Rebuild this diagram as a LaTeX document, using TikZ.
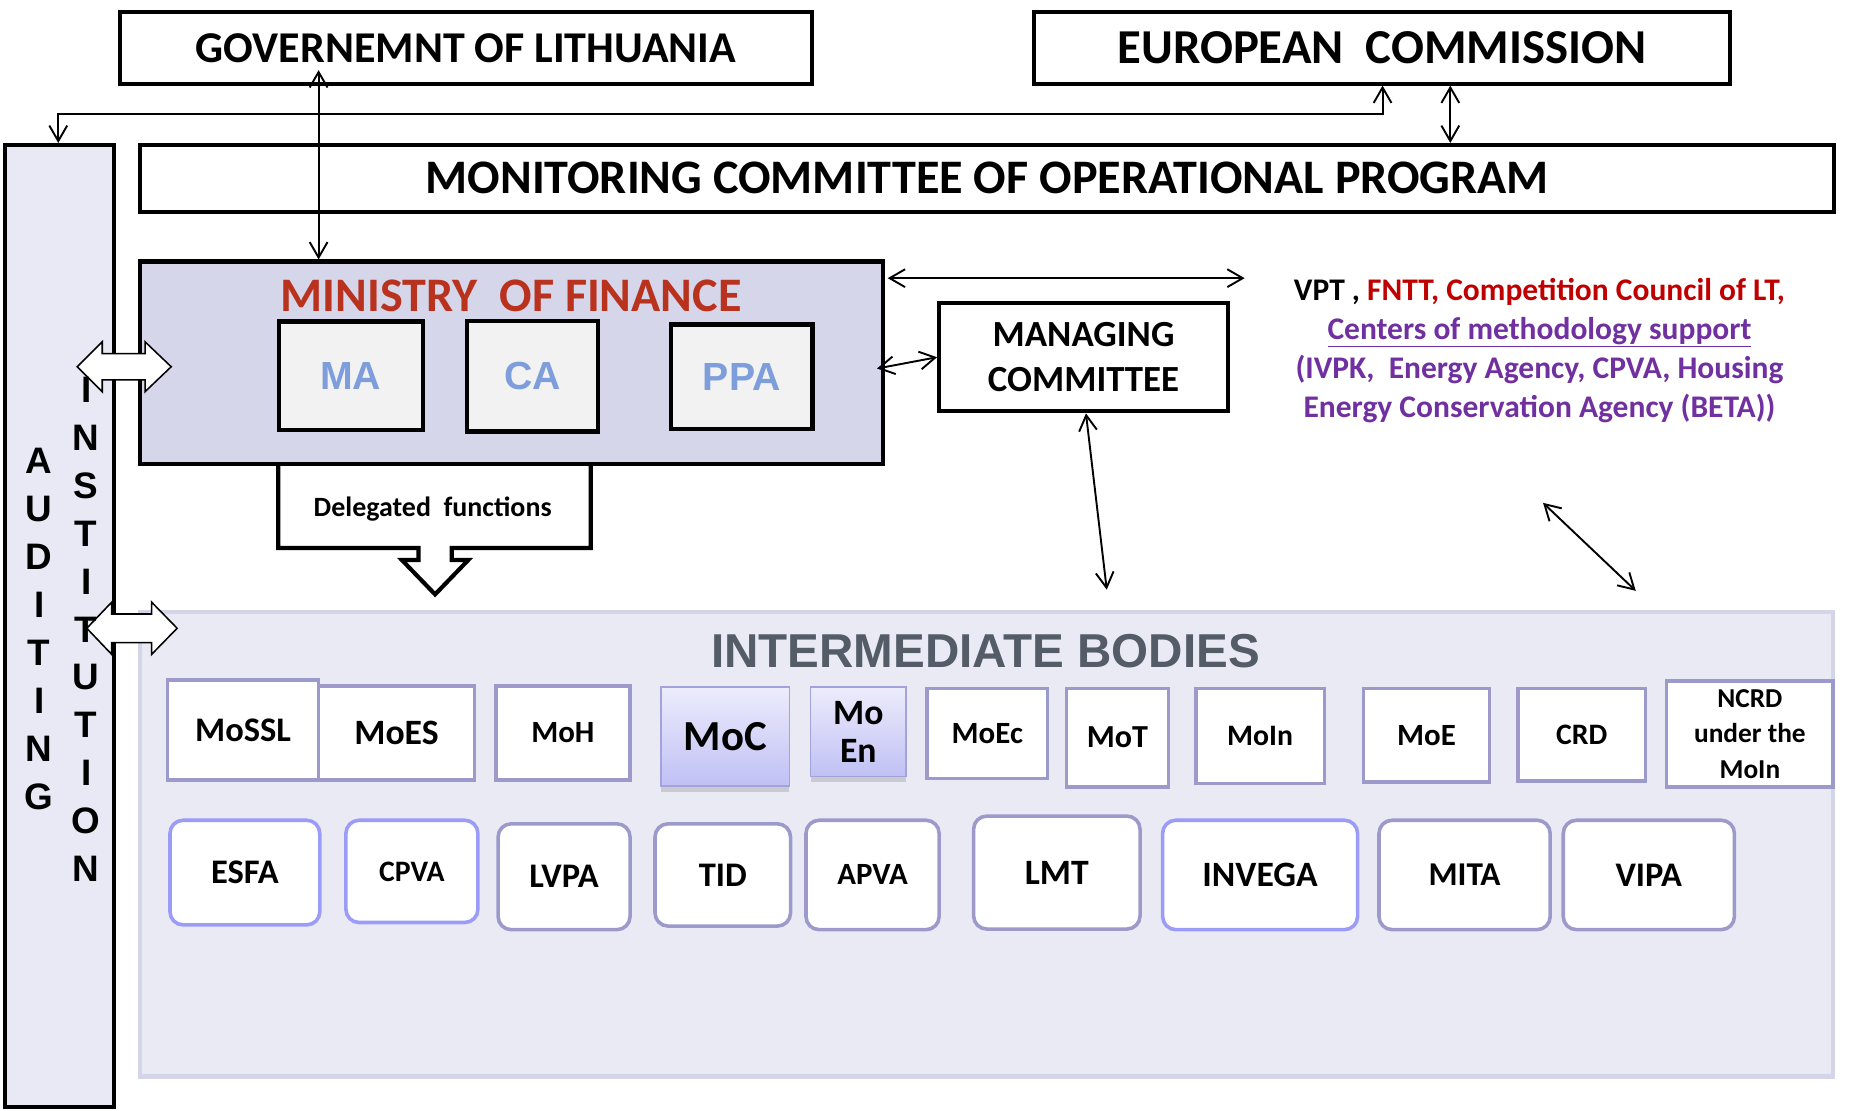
\documentclass[tikz,border=0pt]{standalone}
\usepackage{fontspec}
\setmainfont{Carlito}
\newfontfamily\arialfont{Liberation Sans}
\usetikzlibrary{arrows.meta,shadows}
\definecolor{audfill}{RGB}{233,233,245}
\definecolor{moffill}{RGB}{213,214,234}
\definecolor{ibfill}{RGB}{234,234,245}
\definecolor{ibline}{RGB}{212,213,233}
\definecolor{boxline}{RGB}{156,154,203}
\definecolor{boxblue}{RGB}{155,155,248}
\definecolor{minline}{RGB}{163,163,220}
\definecolor{mintop}{RGB}{236,236,252}
\definecolor{minbot}{RGB}{192,192,245}
\definecolor{mofred}{RGB}{185,50,30}
\definecolor{unitblue}{RGB}{125,158,218}
\definecolor{unitfill}{RGB}{242,242,242}
\definecolor{ibgray}{RGB}{84,92,104}
\definecolor{vptred}{RGB}{192,0,0}
\definecolor{vptviolet}{RGB}{112,48,160}
\newcommand{\fsz}[1]{\fontsize{#1}{#1}\selectfont}

\begin{document}
\begin{tikzpicture}[x=1pt,y=-1pt,
  every node/.style={inner sep=0pt},
  topbox/.style={draw,line width=3.5pt,fill=white},
  unitbox/.style={draw,line width=3.5pt,fill=unitfill,text=unitblue,font=\arialfont\bfseries\fsz{33}},
  ibbox/.style={draw=boxline,line width=3pt,fill=white},
  ibround/.style={ibbox,rounded corners=11pt},
  ibmin/.style={draw=minline,line width=1.2pt,top color=mintop,bottom color=minbot,
    drop shadow={shadow xshift=0pt,shadow yshift=-5pt,opacity=.3}},
  link/.style={line width=1.6pt,{Straight Barb[length=13pt,width=15pt]}-{Straight Barb[length=13pt,width=15pt]}},
  blockarrow/.style={draw,line width=1.3pt,fill=white,line join=miter}]
\useasboundingbox (0,0) rectangle (1568,934);

% top level
\node[topbox,minimum width=582pt,minimum height=61pt,font=\bfseries\fsz{37}] (gov) at (392,40.5) {GOVERNEMNT OF LITHUANIA};
\node[topbox,minimum width=585pt,minimum height=61pt,font=\bfseries\fsz{41}] (ec) at (1162.5,40.5) {EUROPEAN~~COMMISSION};
\node[topbox,minimum width=1425pt,minimum height=56pt,font=\bfseries\fsz{40.5}] (mon) at (830.5,150) {MONITORING COMMITTEE OF OPERATIONAL PROGRAM};
\node[draw,line width=3.5pt,fill=audfill,minimum width=92pt,minimum height=809pt] (aud) at (50,526.5) {};

% intermediate bodies
\node[draw=ibline,line width=3.5pt,fill=ibfill,minimum width=1424pt,minimum height=391pt] (ib) at (830,710) {};
\node[text=ibgray,font=\arialfont\bfseries\fsz{40}] (ibtitle) at (829,548) {INTERMEDIATE BODIES};

% delegated functions callout
\draw[line width=3.5pt,fill=white,line join=miter] (234,390) -- (234,461) -- (352,461) -- (352,471) -- (338,471)
  -- (366,500) -- (394,471) -- (380,471) -- (380,461) -- (497,461) -- (497,390);
\node[font=\bfseries\fsz{23.5}] (deleg) at (364,428) {Delegated~ f{}unctions};

% ministry of finance
\node[draw,line width=3.5pt,fill=moffill,minimum width=625pt,minimum height=170pt] (mof) at (430.5,305) {};
\node[text=mofred,font=\bfseries\fsz{40.5}] (moftitle) at (430,249) {MINISTRY~~OF FINANCE};
\node[unitbox,minimum width=121pt,minimum height=91pt] (ma) at (295,316) {MA};
\node[unitbox,minimum width=110pt,minimum height=93pt] (ca) at (448,316.5) {CA};
\node[unitbox,minimum width=119pt,minimum height=88pt] (ppa) at (624,317) {PPA};

\node[topbox,align=center,minimum width=243pt,minimum height=91pt,font=\bfseries\fontsize{31}{38}\selectfont] (mc) at (911.5,300.5) {MANAGING\\COMMITTEE};

\node[align=center,font=\bfseries\fontsize{26.5}{33}\selectfont] (vpt) at (1295,295)
  {VPT , \textcolor{vptred}{FNTT, Competition Council of LT,}\\
   \textcolor{vptviolet}{\underline{Centers of methodology support}}\\
   \textcolor{vptviolet}{(IVPK,~ Energy Agency, CPVA, Housing}\\
   \textcolor{vptviolet}{Energy Conservation Agency (BETA))}};

% ministries
\node[ibbox,minimum width=131pt,minimum height=79pt,font=\bfseries\fsz{30}] (moes) at (333.5,616.5) {MoES};
\node[ibbox,minimum width=127pt,minimum height=84pt,font=\bfseries\fsz{29}] (mossl) at (204.5,614) {MoSSL};
\node[ibbox,minimum width=113pt,minimum height=79pt,font=\bfseries\fsz{26}] (moh) at (473.5,616.5) {MoH};
\node[ibmin,minimum width=108pt,minimum height=83pt,font=\bfseries\fsz{36}] (moc) at (610,619.5) {MoC};
\node[ibmin,align=center,minimum width=80pt,minimum height=75pt,font=\bfseries\fontsize{30}{32}\selectfont] (moen) at (722,615.5) {Mo\\En};
\node[ibbox,minimum width=101pt,minimum height=76pt,font=\bfseries\fsz{26}] (moec) at (830.5,617) {MoEc};
\node[ibbox,minimum width=86pt,minimum height=83pt,font=\bfseries\fsz{27}] (mot) at (940,620.5) {MoT};
\node[ibbox,minimum width=108pt,minimum height=80pt,font=\bfseries\fsz{25}] (moin) at (1060,619) {MoIn};
\node[ibbox,minimum width=106pt,minimum height=79pt,font=\bfseries\fsz{26}] (moe) at (1200,618.5) {MoE};
\node[ibbox,minimum width=107pt,minimum height=78pt,font=\bfseries\fsz{25}] (crd) at (1330.5,618) {CRD};
\node[ibbox,align=center,minimum width=140pt,minimum height=89pt,font=\bfseries\fontsize{23}{29.5}\selectfont] (ncrd) at (1472,617.5) {NCRD\\under the\\MoIn};

% agencies
\node[ibround,draw=boxblue,minimum width=126pt,minimum height=88pt,font=\bfseries\fsz{29}] (esfa) at (206,734) {ESFA};
\node[ibround,draw=boxblue,minimum width=111pt,minimum height=86pt,font=\bfseries\fsz{25}] (cpva) at (346.5,733) {CPVA};
\node[ibround,minimum width=111pt,minimum height=89pt,font=\bfseries\fsz{29}] (lvpa) at (474.5,737.5) {LVPA};
\node[ibround,minimum width=114pt,minimum height=86pt,font=\bfseries\fsz{29}] (tid) at (608,736) {TID};
\node[ibround,minimum width=112pt,minimum height=92pt,font=\bfseries\fsz{26}] (apva) at (734,736) {APVA};
\node[ibround,minimum width=140pt,minimum height=95pt,font=\bfseries\fsz{30}] (lmt) at (889,734) {LMT};
\node[ibround,draw=boxblue,minimum width=164pt,minimum height=92pt,font=\bfseries\fsz{30}] (invega) at (1060,736) {INVEGA};
\node[ibround,minimum width=144pt,minimum height=92pt,font=\bfseries\fsz{28}] (mita) at (1232,736) {MITA};
\node[ibround,minimum width=144pt,minimum height=92pt,font=\bfseries\fsz{29}] (vipa) at (1387,736) {VIPA};

% audit block arrows
\draw[blockarrow] (65,308.5) -- (86,287.5) -- (86,297.5) -- (122,297.5) -- (122,287.5) -- (144,308.5)
  -- (122,329.5) -- (122,319.5) -- (86,319.5) -- (86,329.5) -- cycle;
\draw[blockarrow] (73,528.5) -- (94,506.5) -- (94,516.5) -- (127.5,516.5) -- (127.5,506.5) -- (149,528.5)
  -- (127.5,550.5) -- (127.5,540.5) -- (94,540.5) -- (94,550.5) -- cycle;

\foreach \ch [count=\i from 0] in {A,U,D,I,T,I,N,G}
  \node[font=\arialfont\bfseries\fsz{31}] (auda\i) at (33,{388+40.3*\i}) {\ch};
\foreach \ch [count=\i from 0] in {I,N,S,T,I,T,U,T,I,O,N}
  \node[font=\arialfont\bfseries\fsz{31}] (audb\i) at (72.5,{328+40.3*\i}) {\ch};

% connectors
\coordinate (govtip) at (268,59);
\coordinate (ectipl) at (1163,72);
\coordinate (ectipr) at (1220,72);
\coordinate (bend) at (49,96);
\coordinate (vpttip) at (1047,234);
\coordinate (ibtip) at (931,496);
\coordinate (cmsa) at (1298,423);
\coordinate (cmsb) at (1376,497);

\draw[link] (govtip) -- (govtip |- mof.north);
\draw[link] (ectipl) |- (bend) -- (bend |- aud.north);
\draw[link] (ectipr) -- (ectipr |- mon.north);
\draw[link,shorten <=2pt] (vpttip -| mof.east) -- (vpttip);
\draw[link] ([xshift=-7pt,yshift=-5pt]mof.east) -- (mc.west);
\draw[link] ([xshift=2pt]mc.south) -- (ibtip);
\draw[link] (cmsa) -- (cmsb);
\end{tikzpicture}
\end{document}
